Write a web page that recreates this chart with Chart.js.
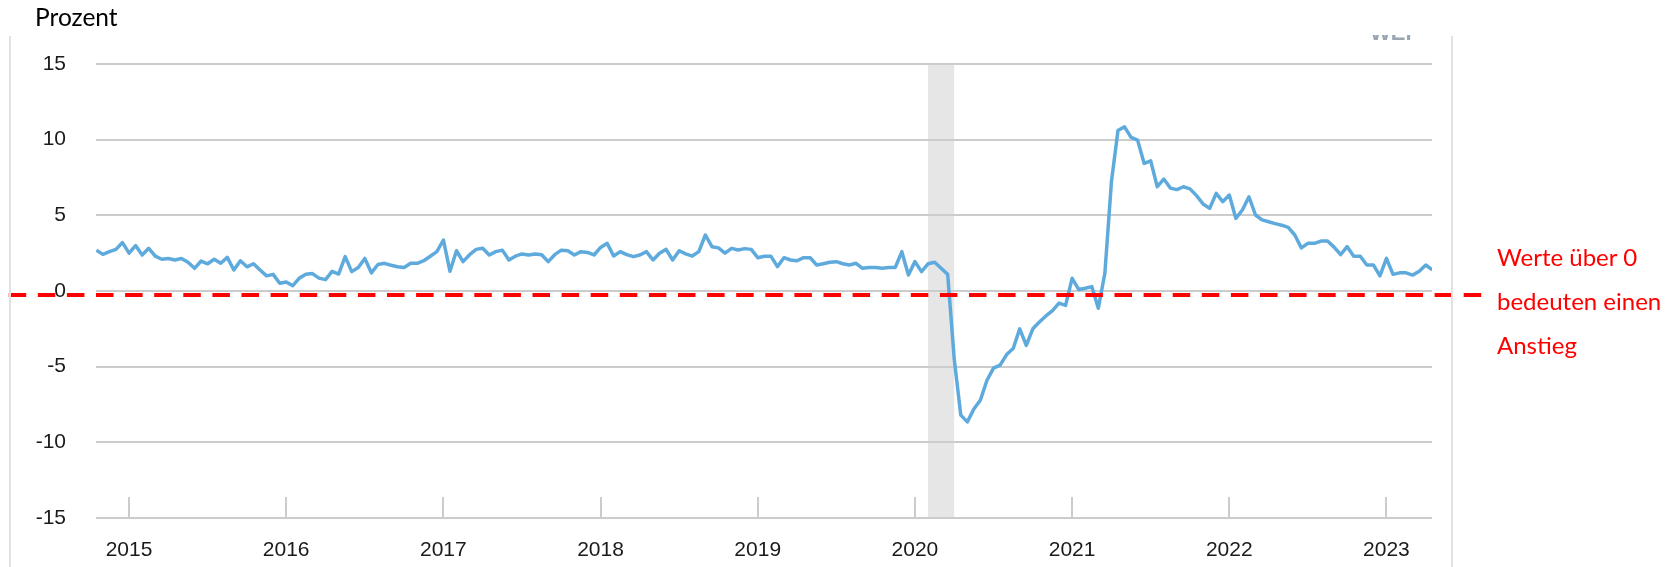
<!DOCTYPE html>
<html>
<head>
<meta charset="utf-8">
<script src="https://cdn.jsdelivr.net/npm/chart.js@4.4.1/dist/chart.umd.min.js"></script>
<style>
  body { margin: 0; background: #fff; }
  #wrap { position: relative; width: 1673px; height: 567px; overflow: hidden; background: #fff; }
  #chart { position: absolute; left: 0; top: 0; }
  .frame { position: absolute; top: 36px; bottom: 0; width: 2px; background: #e2e2e2; }
  #unit { position: absolute; left: 35px; top: 2px; font: 24.5px Lato, sans-serif; line-height: 30px; color: #000; }
  #note { position: absolute; left: 1497px; top: 235px; font: 24px Lato, sans-serif; line-height: 44px; color: #ff0000; white-space: nowrap; }
  #src { position: absolute; left: 1370px; top: 35px; width: 50px; height: 6px; overflow: hidden; }
  #src span { position: absolute; left: 0; top: -13px; font: bold 22px "Liberation Sans", Arial, sans-serif; line-height: 22px; color: #9aa6b2; }
</style>
</head>
<body>
<div id="wrap">
  <canvas id="chart" width="1673" height="567"></canvas>
  <div class="frame" style="left:9px"></div>
  <div class="frame" style="left:1451px"></div>
  <div id="unit">Prozent</div>
  <div id="src"><span>WEI</span></div>
  <div id="note">Werte über 0<br>bedeuten einen<br>Anstieg</div>
</div>
<script>
const startYear = 2014.792;
const stepYears = 1 / 24;
const xMin = 2014.79, xMax = 2023.29;
const yearTicks = [2015, 2016, 2017, 2018, 2019, 2020, 2021, 2022, 2023];
const recession = [2020.083, 2020.25];
const refLevel = 0;

const weiOct14 = [2.7, 2.42, 2.6, 2.75, 3.2, 2.5, 3.0, 2.38, 2.82, 2.3, 2.1, 2.15, 2.05, 2.15, 1.9, 1.5, 1.98, 1.8, 2.1, 1.83, 2.22, 1.39, 2.0, 1.6];
const weiOct15 = [1.8, 1.39, 1.0, 1.1, 0.51, 0.6, 0.35, 0.85, 1.1, 1.15, 0.85, 0.75, 1.3, 1.12, 2.27, 1.28, 1.55, 2.15, 1.2, 1.75, 1.83, 1.7, 1.6, 1.55];
const weiOct16 = [1.83, 1.83, 2.0, 2.3, 2.6, 3.37, 1.3, 2.66, 1.94, 2.4, 2.75, 2.82, 2.38, 2.6, 2.7, 2.05, 2.3, 2.45, 2.38, 2.45, 2.4, 1.94, 2.4, 2.7];
const weiOct17 = [2.66, 2.38, 2.6, 2.55, 2.38, 2.88, 3.15, 2.31, 2.6, 2.4, 2.27, 2.38, 2.6, 2.05, 2.5, 2.75, 2.05, 2.66, 2.45, 2.31, 2.6, 3.7, 2.93, 2.85];
const weiOct18 = [2.5, 2.82, 2.71, 2.8, 2.75, 2.2, 2.3, 2.3, 1.61, 2.2, 2.05, 2.0, 2.2, 2.2, 1.72, 1.8, 1.9, 1.94, 1.8, 1.72, 1.83, 1.5, 1.55, 1.56];
const weiOct19 = [1.5, 1.55, 1.56, 2.6, 1.06, 1.94, 1.28, 1.8, 1.9, 1.5, 1.1, -4.5, -8.2, -8.65, -7.8, -7.2, -5.9, -5.1, -4.9, -4.2, -3.8, -2.5, -3.6, -2.5];
const weiOct20 = [-2.05, -1.65, -1.3, -0.8, -0.95, 0.84, 0.1, 0.18, 0.29, -1.14, 1.17, 7.2, 10.6, 10.85, 10.15, 9.97, 8.43, 8.6, 6.89, 7.4, 6.8, 6.7, 6.89, 6.75];
const weiOct21 = [6.3, 5.75, 5.46, 6.45, 5.9, 6.34, 4.8, 5.35, 6.23, 5.02, 4.7, 4.58, 4.45, 4.35, 4.2, 3.7, 2.85, 3.15, 3.15, 3.3, 3.3, 2.9, 2.4, 2.93];
const weiOct22 = [2.3, 2.3, 1.72, 1.72, 1.0, 2.16, 1.1, 1.2, 1.2, 1.05, 1.3, 1.72, 1.4];

const weiValues = [].concat(weiOct14, weiOct15, weiOct16, weiOct17, weiOct18, weiOct19, weiOct20, weiOct21, weiOct22);
const points = weiValues.map((v, i) => ({ x: startYear + i * stepYears, y: v }));

const extras = {
  id: 'extras',
  beforeDraw(chart) {
    const { ctx, chartArea: a, scales: { x } } = chart;
    const x0 = x.getPixelForValue(recession[0]);
    const x1 = x.getPixelForValue(recession[1]);
    ctx.save();
    ctx.fillStyle = '#e6e6e6';
    ctx.fillRect(x0, a.top, x1 - x0, a.bottom - a.top);
    ctx.restore();
  },
  beforeDatasetsDraw(chart) {
    // kurze Tickstriche nach oben
    const { ctx, chartArea: a, scales: { x } } = chart;
    ctx.save();
    ctx.strokeStyle = '#cccccc';
    ctx.lineWidth = 2;
    x.ticks.forEach(t => {
      const px = Math.round(x.getPixelForValue(t.value));
      ctx.beginPath();
      ctx.moveTo(px, a.bottom);
      ctx.lineTo(px, a.bottom - 21);
      ctx.stroke();
    });
    ctx.restore();
  },
  afterDatasetsDraw(chart) {
    const { ctx, chartArea: a, scales: { y } } = chart;
    const py = y.getPixelForValue(refLevel) + 4;
    ctx.save();
    ctx.strokeStyle = '#ff0000';
    ctx.lineWidth = 4;
    ctx.setLineDash([17.5, 11.6]);
    ctx.beginPath();
    ctx.moveTo(a.left - 29.1 * 4, py);
    ctx.lineTo(1482, py);
    ctx.stroke();
    ctx.restore();
  }
};

new Chart(document.getElementById('chart'), {
  type: 'line',
  data: {
    datasets: [{
      label: 'WEI',
      data: points,
      borderColor: '#5eaadd',
      borderWidth: 3.5,
      pointRadius: 0,
      tension: 0,
      borderJoinStyle: 'round'
    }]
  },
  options: {
    responsive: false,
    animation: false,
    layout: { padding: { top: 64, right: 241, bottom: 0, left: 0 } },
    plugins: { legend: { display: false }, tooltip: { enabled: false } },
    scales: {
      x: {
        type: 'linear',
        min: xMin,
        max: xMax,
        afterBuildTicks: s => { s.ticks = yearTicks.map(v => ({ value: v })); },
        afterFit: s => { s.height = 49; },
        grid: { display: false },
        border: { display: false },
        ticks: {
          padding: 12,
          color: '#1a1a1a',
          font: { family: '"Liberation Sans", Arial, sans-serif', size: 21 },
          callback: v => String(v),
          maxRotation: 0
        }
      },
      y: {
        min: -15,
        max: 15,
        afterFit: s => { s.width = 96; },
        grid: { color: '#cccccc', lineWidth: 2, drawTicks: false },
        border: { display: false },
        ticks: {
          stepSize: 5,
          padding: 30,
          color: '#1a1a1a',
          font: { family: '"Liberation Sans", Arial, sans-serif', size: 21 }
        }
      }
    }
  },
  plugins: [extras]
});
</script>
</body>
</html>
